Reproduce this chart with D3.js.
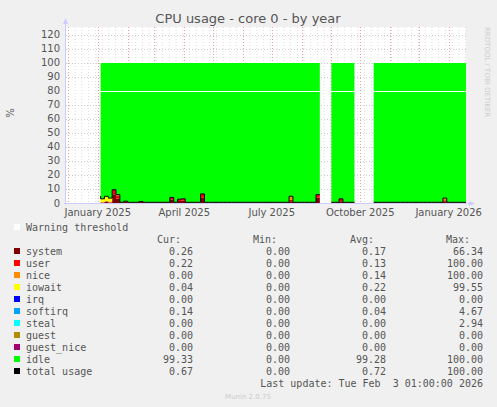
<!DOCTYPE html>
<html><head><meta charset="utf-8">
<script src="https://cdn.jsdelivr.net/npm/d3@7/dist/d3.min.js"></script>
<style>body{margin:0;background:#f0f0f0}svg{display:block}</style>
</head><body><svg id="c" width="497" height="407"></svg>
<script>
const startDate = "2024-11-29";
const stepDays = 4;
const N = 105;
// gaps (sample index ranges without data)
const gaps = [[1, 8], [67, 68], [76, 79]];
// sparse non-zero values: index -> value
const systemVals = {9: 2.5, 11: 0.8, 13: 6, 14: 3, 16: 0.8, 20: 0.6, 28: 2, 30: 1.2, 31: 1.5, 36: 3.5, 59: 1, 66: 3.5, 72: 1, 99: 1};
const userVals = {9: 1.5, 13: 3, 14: 2, 28: 1.5, 30: 1, 31: 1, 36: 2.5, 59: 0.8, 66: 2, 72: 1.5, 99: 0.5};
const niceVals = {9: 0.5, 12: 0.5, 59: 2.5, 99: 1.5};
const iowaitVals = {10: 2.5, 11: 3.5, 12: 2.5, 14: 0.5};
const baseUsage = 0.5;
const yTicks = [0,10,20,30,40,50,60,70,80,90,100,110,120];
const xLabels = [["2025-01-01","January 2025"],["2025-04-01","April 2025"],["2025-07-01","July 2025"],["2025-10-01","October 2025"],["2026-01-01","January 2026"]];
const warning = 80;
const legendRows = [
 ["system","#7f0000","0.26","0.00","0.17","66.34"],
 ["user","#ff0000","0.22","0.00","0.13","100.00"],
 ["nice","#ff8c00","0.00","0.00","0.14","100.00"],
 ["iowait","#ffff00","0.04","0.00","0.22","99.55"],
 ["irq","#0000ff","0.00","0.00","0.00","0.00"],
 ["softirq","#00a0ff","0.14","0.00","0.04","4.67"],
 ["steal","#00ffff","0.00","0.00","0.00","2.94"],
 ["guest","#b08c00","0.00","0.00","0.00","0.00"],
 ["guest_nice","#a00070","0.00","0.00","0.00","0.00"],
 ["idle","#00ff00","99.33","0.00","99.28","100.00"],
 ["total usage","#000000","0.67","0.00","0.72","100.00"]];

const t0 = new Date(startDate+"T00:00:00");
const inGap = i => gaps.some(([a,b]) => i>=a && i<=b);
const data = d3.range(N).map(i => {
  const d = new Date(t0.getTime() + i*stepDays*864e5);
  if (inGap(i)) return {d, gap:true};
  const sys = (systemVals[i]||0) + baseUsage*0.6, usr = (userVals[i]||0) + baseUsage*0.4;
  const nic = niceVals[i]||0, iow = iowaitVals[i]||0;
  const tot = sys+usr+nic+iow;
  return {d, system:sys, user:usr, nice:nic, iowait:iow, idle:100-tot, total:tot};
});
const keys = ["system","user","nice","iowait","idle"];
const colors = {system:"#7f0000",user:"#ff0000",nice:"#ff8c00",iowait:"#ffff00",idle:"#00ff00"};

const svg = d3.select("#c");
const L=66, R=466, T=27, B=203;
const x = d3.scaleTime().domain([t0, new Date(t0.getTime()+104*stepDays*864e5)]).range([L,R]);
const y = d3.scaleLinear().domain([0,125.7]).range([B,T]);

svg.append("rect").attr("x",L).attr("y",T).attr("width",R-L).attr("height",B-T).attr("fill","#fff");
// grid
const weeks = d3.timeWeek.range(x.domain()[0], x.domain()[1]);
svg.selectAll(".vg").data(weeks).join("line").attr("x1",d=>x(d)+.5).attr("x2",d=>x(d)+.5).attr("y1",T).attr("y2",B)
 .attr("stroke","#ddd").attr("stroke-dasharray","1,2");
svg.selectAll(".hg").data(yTicks).join("line").attr("x1",L).attr("x2",R).attr("y1",d=>Math.round(y(d))+.5).attr("y2",d=>Math.round(y(d))+.5)
 .attr("stroke","#ccc").attr("stroke-dasharray","1,2");
const months = d3.timeMonth.range(x.domain()[0], x.domain()[1]);
svg.selectAll(".mg").data(months).join("line").attr("x1",d=>Math.round(x(d))+.5).attr("x2",d=>Math.round(x(d))+.5).attr("y1",T).attr("y2",B)
 .attr("stroke","#e8a0a0").attr("stroke-dasharray","1,2");

// stacked areas
const stack = d3.stack().keys(keys).value((d,k)=>d.gap?0:d[k])(data);
stack.forEach(layer => {
  svg.append("path").datum(layer).attr("fill",colors[layer.key])
   .attr("d", d3.area().defined(d=>!d.data.gap).curve(d3.curveStepBefore)
     .x(d=>x(d.data.d)).y0(d=>y(d[0])).y1(d=>y(d[1]))(layer));
});
svg.append("path").datum(data).attr("fill","none").attr("stroke","#000").attr("stroke-width",1)
 .attr("d", d3.line().defined(d=>!d.gap).curve(d3.curveStepBefore).x(d=>x(d.d)).y(d=>y(d.total)));
svg.append("line").attr("x1",L).attr("x2",R).attr("y1",Math.round(y(warning))+.5).attr("y2",Math.round(y(warning))+.5).attr("stroke","#fff");

// axes
const g = svg.append("g").attr("font-family","DejaVu Sans").attr("font-size",10).attr("fill","#555");
yTicks.forEach(v=>g.append("text").attr("x",L-6).attr("y",y(v)+3.5).attr("text-anchor","end").text(v));
xLabels.forEach(([d,l])=>g.append("text").attr("x",x(new Date(d+"T00:00:00"))).attr("y",B+13).attr("text-anchor","middle").text(l));
svg.append("line").attr("x1",L-0.5).attr("x2",L-0.5).attr("y1",B+2).attr("y2",T-5).attr("stroke","#ccf");
svg.append("path").attr("d",`M${L-3},${T-3}L${L-0.5},${T-9}L${L+2},${T-3}Z`).attr("fill","#ccf");
svg.append("line").attr("x1",L-2).attr("x2",R+4).attr("y1",B+.5).attr("y2",B+.5).attr("stroke","#ccf");
svg.append("path").attr("d",`M${R+3},${B-2}L${R+9},${B+.5}L${R+3},${B+3}Z`).attr("fill","#ccf");
svg.append("text").attr("x",248).attr("y",23).attr("text-anchor","middle").attr("font-family","DejaVu Sans").attr("font-size",13).attr("fill","#555").text("CPU usage - core 0 - by year");
svg.append("text").attr("transform","translate(14,113) rotate(-90)").attr("text-anchor","middle").attr("font-family","DejaVu Sans").attr("font-size",10).attr("fill","#555").text("%");
svg.append("text").attr("transform","translate(485,27) rotate(90)").attr("font-family","DejaVu Sans").attr("font-size",7).attr("fill","#ccc").text("RRDTOOL / TOBI OETIKER");

// legend
const lg = svg.append("g").attr("font-family","DejaVu Sans Mono").attr("font-size",10).attr("fill","#555");
lg.append("rect").attr("x",14).attr("y",224).attr("width",6).attr("height",6).attr("fill","#fff");
lg.append("text").attr("x",26).attr("y",231).text("Warning threshold");
[["Cur:",181],["Min:",277],["Avg:",374],["Max:",470]].forEach(([t,xx])=>lg.append("text").attr("x",xx).attr("y",243).attr("text-anchor","end").text(t));
legendRows.forEach((r,i)=>{
  const yy = 255+i*12;
  lg.append("rect").attr("x",14).attr("y",yy-7).attr("width",6).attr("height",6).attr("fill",r[1]);
  lg.append("text").attr("x",26).attr("y",yy).text(r[0]);
  [193,290,386,483].forEach((xx,j)=>lg.append("text").attr("x",xx).attr("y",yy).attr("text-anchor","end").text(r[2+j]));
});
lg.append("text").attr("x",483).attr("y",387).attr("text-anchor","end").attr("xml:space","preserve").text("Last update: Tue Feb  3 01:00:00 2026");
svg.append("text").attr("x",248).attr("y",399).attr("text-anchor","middle").attr("font-family","DejaVu Sans").attr("font-size",7).attr("fill","#ccc").text("Munin 2.0.75");
</script></body></html>
